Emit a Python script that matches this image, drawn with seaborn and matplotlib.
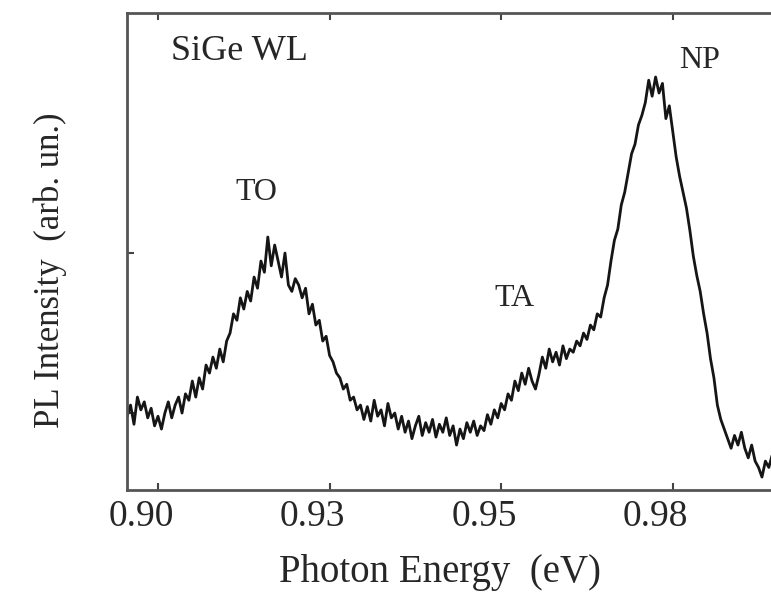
import numpy as np
import matplotlib
matplotlib.use("Agg")
import matplotlib.pyplot as plt
import seaborn as sns
from matplotlib.transforms import ScaledTranslation

# PL spectrum of the SiGe wetting layer (arb. units)
intensity = [
    0.98, 1.05, 0.93, 1.10, 1.02, 1.07, 0.97, 1.03, 0.92, 0.98,
    0.90, 1.00, 1.07, 0.97, 1.05, 1.10, 1.00, 1.12, 1.08, 1.20,
    1.10, 1.22, 1.15, 1.30, 1.25, 1.35, 1.28, 1.40, 1.32, 1.45,
    1.50, 1.62, 1.58, 1.72, 1.65, 1.76, 1.70, 1.85, 1.78, 1.95,
    1.88, 2.10, 1.92, 2.05, 1.95, 1.85, 2.00, 1.80, 1.76, 1.84,
    1.80, 1.72, 1.78, 1.62, 1.68, 1.55, 1.58, 1.45, 1.48, 1.36,
    1.32, 1.25, 1.22, 1.15, 1.18, 1.08, 1.10, 1.02, 1.05, 0.96,
    1.04, 0.95, 1.08, 0.98, 1.02, 0.92, 1.06, 0.97, 1.00, 0.90,
    0.98, 0.88, 0.95, 0.84, 0.92, 0.98, 0.86, 0.94, 0.88, 0.96,
    0.85, 0.93, 0.88, 0.97, 0.86, 0.92, 0.80, 0.90, 0.84, 0.94,
    0.88, 0.95, 0.86, 0.92, 0.89, 0.99, 0.93, 1.02, 0.97, 1.06,
    1.02, 1.12, 1.08, 1.20, 1.14, 1.25, 1.18, 1.28, 1.20, 1.15,
    1.24, 1.35, 1.28, 1.40, 1.32, 1.38, 1.30, 1.42, 1.34, 1.40,
    1.38, 1.45, 1.42, 1.50, 1.46, 1.55, 1.52, 1.62, 1.60, 1.72,
    1.80, 1.95, 2.08, 2.15, 2.30, 2.38, 2.50, 2.62, 2.68, 2.80,
    2.86, 2.94, 3.08, 2.98, 3.10, 3.00, 3.06, 2.84, 2.92, 2.76,
    2.60, 2.48, 2.38, 2.28, 2.14, 1.98, 1.86, 1.76, 1.62, 1.50,
    1.34, 1.22, 1.05, 0.96, 0.90, 0.84, 0.78, 0.86, 0.80, 0.88,
    0.78, 0.72, 0.80, 0.70, 0.66, 0.60, 0.70, 0.66, 0.74, 0.70,
]
# spectrometer grid: 0.5 meV steps
energy = np.linspace(0.8955, 0.9900, len(intensity))

xticks = [0.900, 0.925, 0.950, 0.975]
xtick_labels = ["0.90", "0.93", "0.95", "0.98"]
yticks = [1.0, 2.0]

peak_labels = ["TO", "TA", "NP"]
peak_pos = [(0.190, 0.608), (0.568, 0.386), (0.839, 0.885)]

sns.set_style("ticks")
plt.rcParams["font.family"] = ["Liberation Serif", "DejaVu Serif"]

fig = plt.figure(figsize=(7.71, 6.02), dpi=100)
ax = fig.add_axes([0.1647, 0.186, 0.8859, 0.7924])

sns.lineplot(x=energy, y=intensity, ax=ax, color="#151515", linewidth=2.0)

ax.set_xlim(0.89548, 0.995)
ax.set_ylim(0.519, 3.5)
ax.set_xticks(xticks)
ax.set_xticklabels(xtick_labels)
ax.set_yticks(yticks)
ax.set_yticklabels([])
ax.tick_params(direction="in", length=5, width=1.5, color="#444444",
               top=True, right=True, labelsize=27, pad=7)

for side in ["left", "bottom", "top", "right"]:
    ax.spines[side].set_color("#555555")
    ax.spines[side].set_linewidth(2)

# tick labels sit a little left of their ticks in the original
shift = ScaledTranslation(-17 / 100, 0, fig.dpi_scale_trans)
for lbl in ax.get_xticklabels():
    lbl.set_transform(lbl.get_transform() + shift)

ax.set_xlabel("Photon Energy  (eV)", fontsize=28)
ax.xaxis.set_label_coords(0.458, -0.135)
ax.set_ylabel("PL Intensity  (arb. un.)", fontsize=25)
ax.yaxis.set_label_coords(-0.088, 0.461)

ax.text(0.164, 0.901, "SiGe WL", transform=ax.transAxes, fontsize=26,
        ha="center", va="baseline")
for name, (px, py) in zip(peak_labels, peak_pos):
    ax.text(px, py, name, transform=ax.transAxes, fontsize=23,
            ha="center", va="baseline")

fig.savefig("out.png", dpi=100)
